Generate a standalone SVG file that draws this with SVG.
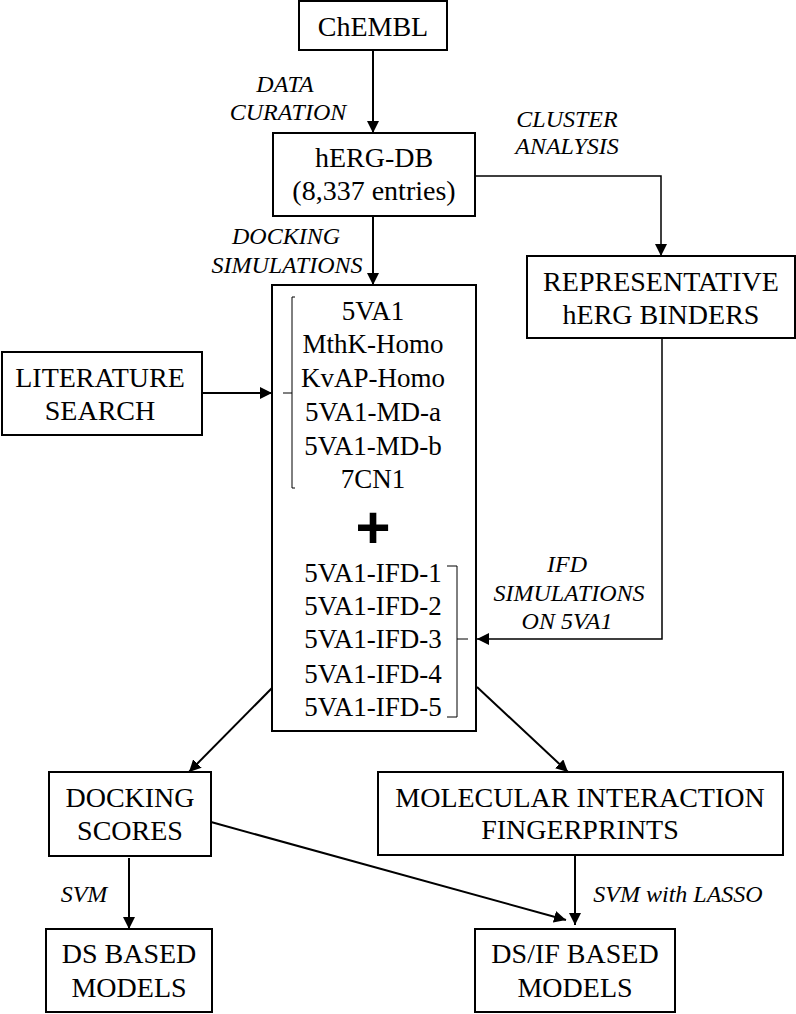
<svg xmlns="http://www.w3.org/2000/svg" width="796" height="1014" viewBox="0 0 796 1014">
<style>
.box{fill:#fff;stroke:#000;stroke-width:2}
.t{font-family:"Liberation Serif","Times New Roman",serif;font-size:28px;fill:#000;text-anchor:middle}
.l{font-family:"Liberation Serif","Times New Roman",serif;font-size:27px;fill:#000;text-anchor:middle}
.i{font-family:"Liberation Serif","Times New Roman",serif;font-size:24px;font-style:italic;fill:#000;text-anchor:middle}
.c{fill:none;stroke:#000;stroke-width:2}
.thin{fill:none;stroke:#000;stroke-width:1.5}
.br{fill:none;stroke:#000;stroke-width:1}
</style>
<defs>
<marker id="ah" markerUnits="userSpaceOnUse" markerWidth="12" markerHeight="12" refX="12" refY="6" orient="auto">
<path d="M0,0 L12,6 L0,12 z" fill="#000"/>
</marker>
</defs>
<rect width="796" height="1014" fill="#fff"/>
<g id="connectors">
<path class="c" d="M373,50 V133" marker-end="url(#ah)"/>
<path class="c" d="M373,216 V285" marker-end="url(#ah)"/>
<path class="thin" d="M475,176 H661 V256" marker-end="url(#ah)"/>
<path class="c" d="M202,393 H272" marker-end="url(#ah)"/>
<path class="thin" d="M662,338 V639 H477" marker-end="url(#ah)"/>
<path class="c" d="M272,688 L189,772" marker-end="url(#ah)"/>
<path class="c" d="M477,687 L568,772" marker-end="url(#ah)"/>
<path class="c" d="M129,858 V929" marker-end="url(#ah)"/>
<path class="c" d="M211,822 L566,920" marker-end="url(#ah)"/>
<path class="c" d="M575,856 V925" marker-end="url(#ah)"/>
<text class="i" x="285" y="92">DATA</text>
<text class="i" x="288" y="120">CURATION</text>
<text class="i" x="567" y="127">CLUSTER</text>
<text class="i" x="567" y="154">ANALYSIS</text>
<text class="i" x="286" y="244">DOCKING</text>
<text class="i" x="287" y="273">SIMULATIONS</text>
<text class="i" x="567" y="572">IFD</text>
<text class="i" x="569" y="601">SIMULATIONS</text>
<text class="i" x="567" y="629">ON 5VA1</text>
<text class="i" x="84" y="902">SVM</text>
<text class="i" x="678" y="902">SVM with LASSO</text>
</g>
<g id="chembl">
<rect class="box" x="299" y="1" width="148" height="49"/>
<text class="t" x="373" y="36">ChEMBL</text>
</g>
<g id="hergdb">
<rect class="box" x="273" y="133" width="202" height="83"/>
<text class="t" x="374" y="167">hERG-DB</text>
<text class="t" x="374" y="200">(8,337 entries)</text>
</g>
<g id="representative">
<rect class="box" x="527" y="256" width="268" height="82"/>
<text class="t" x="661" y="291">REPRESENTATIVE</text>
<text class="t" x="661" y="324">hERG BINDERS</text>
</g>
<g id="literature">
<rect class="box" x="2" y="352" width="200" height="83"/>
<text class="t" x="100" y="387">LITERATURE</text>
<text class="t" x="100" y="420">SEARCH</text>
</g>
<g id="structures">
<rect class="box" x="272" y="285" width="204" height="446"/>
<text class="l" x="373" y="320">5VA1</text>
<text class="l" x="373" y="353">MthK-Homo</text>
<text class="l" x="373" y="387">KvAP-Homo</text>
<text class="l" x="373" y="421">5VA1-MD-a</text>
<text class="l" x="373" y="455">5VA1-MD-b</text>
<text class="l" x="373" y="488">7CN1</text>
<path class="br" d="M295,297 H292 V488 H295 M292,393 H283"/>
<text x="373" y="548" style="font-family:'Liberation Sans',Arial,sans-serif;font-size:60px;font-weight:bold;text-anchor:middle" fill="#000">+</text>
<text class="l" x="373" y="582">5VA1-IFD-1</text>
<text class="l" x="373" y="615">5VA1-IFD-2</text>
<text class="l" x="373" y="648">5VA1-IFD-3</text>
<text class="l" x="373" y="683">5VA1-IFD-4</text>
<text class="l" x="373" y="716">5VA1-IFD-5</text>
<path class="br" d="M447,566 H457 V717 H447 M457,639 H468"/>
</g>
<g id="docking">
<rect class="box" x="49" y="772" width="162" height="84"/>
<text class="t" x="130" y="807">DOCKING</text>
<text class="t" x="130" y="840">SCORES</text>
</g>
<g id="mif">
<rect class="box" x="378" y="772" width="405" height="83"/>
<text class="t" x="580" y="807">MOLECULAR INTERACTION</text>
<text class="t" x="580" y="839">FINGERPRINTS</text>
</g>
<g id="dsmodels">
<rect class="box" x="46" y="929" width="166" height="83"/>
<text class="t" x="129" y="963">DS BASED</text>
<text class="t" x="129" y="997">MODELS</text>
</g>
<g id="dsifmodels">
<rect class="box" x="475" y="929" width="200" height="83"/>
<text class="t" x="575" y="963">DS/IF BASED</text>
<text class="t" x="575" y="997">MODELS</text>
</g>
</svg>
